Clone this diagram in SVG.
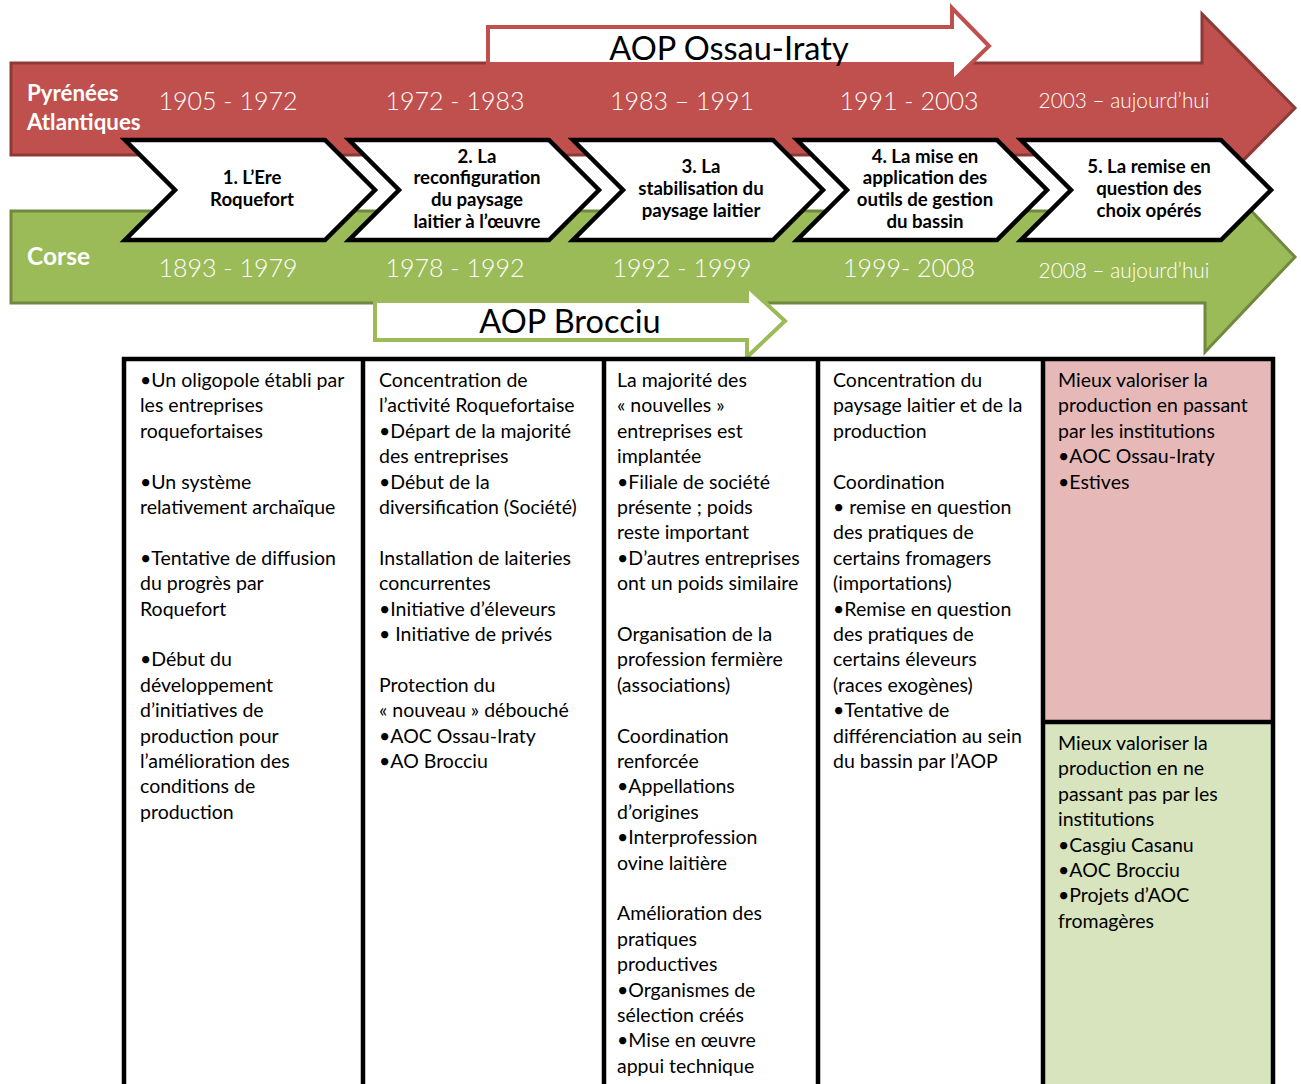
<svg xmlns="http://www.w3.org/2000/svg" width="1301" height="1084" viewBox="0 0 1301 1084">
<style>
.bg{fill:#fff}
.red{fill:#C0504D;stroke:#8C3A38;stroke-width:3;stroke-linejoin:miter}
.green{fill:#9BBB59;stroke:#71893F;stroke-width:3;stroke-linejoin:miter}
.aopR{fill:#fff;stroke:#C0504D;stroke-width:4}
.aopG{fill:#fff;stroke:#9BBB59;stroke-width:4}
.chev{fill:#fff;stroke:#000;stroke-width:4.5;stroke-linejoin:miter}
.lbl{font-family:Lato,"Liberation Sans",sans-serif;font-weight:bold;fill:#fff}
.yr{font-family:Lato,"Liberation Sans",sans-serif;font-weight:300;fill:#fff;font-size:25px;text-anchor:middle}
.yrs{font-family:Lato,"Liberation Sans",sans-serif;font-weight:300;fill:#fff;font-size:20.8px;text-anchor:middle}
.aop{font-family:Lato,"Liberation Sans",sans-serif;fill:#000;font-size:32.5px;text-anchor:middle}
.ct{font-family:Lato,"Liberation Sans",sans-serif;font-weight:bold;fill:#000;font-size:18.6px;text-anchor:middle}
.tx{font-family:Lato,"Liberation Sans",sans-serif;fill:#000;font-size:19.5px}
.grid{stroke:#000;stroke-width:4.5;fill:none}
</style>
<rect class="bg" x="0" y="0" width="1301" height="1084"/>

<g id="arrow-pyrenees">
<polygon class="red" points="11,63 1202,63 1202,14 1295,108 1202,202 1202,155 11,155"/>
</g>
<g id="arrow-corse">
<polygon class="green" points="11,211 1205,211 1205,162 1295,257 1205,352 1205,303 11,303"/>
</g>
<g id="arrow-ossau">
<polygon class="aopR" points="488,27 952,27 952,8 989,46 952,82 952,64 488,64"/>
<text class="aop" x="729" y="60">AOP Ossau-Iraty</text>
</g>
<g id="arrow-brocciu">
<polygon class="aopG" points="375,301 747,301 747,286 785,321 747,357 747,340 375,340"/>
<text class="aop" x="570" y="333">AOP Brocciu</text>
</g>

<g id="region-labels">
<text class="lbl" font-size="22.3" x="27" y="101">Pyrénées</text>
<text class="lbl" font-size="22.3" x="27" y="130">Atlantiques</text>
<text class="lbl" font-size="24.5" x="27" y="265">Corse</text>
</g>

<g id="years-pyrenees">
<text class="yr" x="228" y="110">1905 - 1972</text>
<text class="yr" x="455" y="110">1972 - 1983</text>
<text class="yr" x="682" y="110">1983 – 1991</text>
<text class="yr" x="909" y="110">1991 - 2003</text>
<text class="yrs" x="1124" y="108">2003 – aujourd’hui</text>
</g>
<g id="years-corse">
<text class="yr" x="228" y="277">1893 - 1979</text>
<text class="yr" x="455" y="277">1978 - 1992</text>
<text class="yr" x="682" y="277">1992 - 1999</text>
<text class="yr" x="909" y="277">1999- 2008</text>
<text class="yrs" x="1124" y="278">2008 – aujourd’hui</text>
</g>

<g id="phase-1">
<polygon class="chev" points="125,140 325,140 375,190 325,240 125,240 175,190"/>
<text class="ct" x="252" y="184">1. L’Ere</text>
<text class="ct" x="252" y="206">Roquefort</text>
</g>
<g id="phase-2">
<polygon class="chev" points="349,140 549,140 599,190 549,240 349,240 399,190"/>
<text class="ct" x="477" y="163">2. La</text>
<text class="ct" x="477" y="184">reconfiguration</text>
<text class="ct" x="477" y="206">du paysage</text>
<text class="ct" x="477" y="228">laitier à l’œuvre</text>
</g>
<g id="phase-3">
<polygon class="chev" points="573,140 773,140 823,190 773,240 573,240 623,190"/>
<text class="ct" x="701" y="173">3. La</text>
<text class="ct" x="701" y="195">stabilisation du</text>
<text class="ct" x="701" y="217">paysage laitier</text>
</g>
<g id="phase-4">
<polygon class="chev" points="797,140 997,140 1047,190 997,240 797,240 847,190"/>
<text class="ct" x="925" y="163">4. La mise en</text>
<text class="ct" x="925" y="184">application des</text>
<text class="ct" x="925" y="206">outils de gestion</text>
<text class="ct" x="925" y="228">du bassin</text>
</g>
<g id="phase-5">
<polygon class="chev" points="1021,140 1221,140 1271,190 1221,240 1021,240 1071,190"/>
<text class="ct" x="1149" y="173">5. La remise en</text>
<text class="ct" x="1149" y="195">question des</text>
<text class="ct" x="1149" y="217">choix opérés</text>
</g>

<g id="table">
<rect x="1045" y="360" width="226" height="362" fill="#E6B9B8"/>
<rect x="1045" y="722" width="226" height="362" fill="#D7E4BD"/>
<g class="grid">
<line x1="122" y1="359" x2="1275" y2="359"/>
<line x1="124" y1="357" x2="124" y2="1084"/>
<line x1="363" y1="357" x2="363" y2="1084"/>
<line x1="604" y1="357" x2="604" y2="1084"/>
<line x1="818" y1="357" x2="818" y2="1084"/>
<line x1="1043" y1="357" x2="1043" y2="1084"/>
<line x1="1273" y1="357" x2="1273" y2="1084"/>
<line x1="1043" y1="722" x2="1273" y2="722"/>
</g>
</g>

<g id="cell-1">
<text class="tx" x="140" y="387">
<tspan x="140" dy="0">•Un oligopole établi par</tspan>
<tspan x="140" dy="25.4">les entreprises</tspan>
<tspan x="140" dy="25.4">roquefortaises</tspan>
<tspan x="140" dy="50.8">•Un système</tspan>
<tspan x="140" dy="25.4">relativement archaïque</tspan>
<tspan x="140" dy="50.8">•Tentative de diffusion</tspan>
<tspan x="140" dy="25.4">du progrès par</tspan>
<tspan x="140" dy="25.4">Roquefort</tspan>
<tspan x="140" dy="50.8">•Début du</tspan>
<tspan x="140" dy="25.4">développement</tspan>
<tspan x="140" dy="25.4">d’initiatives de</tspan>
<tspan x="140" dy="25.4">production pour</tspan>
<tspan x="140" dy="25.4">l’amélioration des</tspan>
<tspan x="140" dy="25.4">conditions de</tspan>
<tspan x="140" dy="25.4">production</tspan>
</text>
</g>

<g id="cell-2">
<text class="tx" x="379" y="387">
<tspan x="379" dy="0">Concentration de</tspan>
<tspan x="379" dy="25.4">l’activité Roquefortaise</tspan>
<tspan x="379" dy="25.4">•Départ de la majorité</tspan>
<tspan x="379" dy="25.4">des entreprises</tspan>
<tspan x="379" dy="25.4">•Début de la</tspan>
<tspan x="379" dy="25.4">diversification (Société)</tspan>
<tspan x="379" dy="50.8">Installation de laiteries</tspan>
<tspan x="379" dy="25.4">concurrentes</tspan>
<tspan x="379" dy="25.4">•Initiative d’éleveurs</tspan>
<tspan x="379" dy="25.4">• Initiative de privés</tspan>
<tspan x="379" dy="50.8">Protection du</tspan>
<tspan x="379" dy="25.4">« nouveau » débouché</tspan>
<tspan x="379" dy="25.4">•AOC Ossau-Iraty</tspan>
<tspan x="379" dy="25.4">•AO Brocciu</tspan>
</text>
</g>

<g id="cell-3">
<text class="tx" x="617" y="387">
<tspan x="617" dy="0">La majorité des</tspan>
<tspan x="617" dy="25.4">« nouvelles »</tspan>
<tspan x="617" dy="25.4">entreprises est</tspan>
<tspan x="617" dy="25.4">implantée</tspan>
<tspan x="617" dy="25.4">•Filiale de société</tspan>
<tspan x="617" dy="25.4">présente ; poids</tspan>
<tspan x="617" dy="25.4">reste important</tspan>
<tspan x="617" dy="25.4">•D’autres entreprises</tspan>
<tspan x="617" dy="25.4">ont un poids similaire</tspan>
<tspan x="617" dy="50.8">Organisation de la</tspan>
<tspan x="617" dy="25.4">profession fermière</tspan>
<tspan x="617" dy="25.4">(associations)</tspan>
<tspan x="617" dy="50.8">Coordination</tspan>
<tspan x="617" dy="25.4">renforcée</tspan>
<tspan x="617" dy="25.4">•Appellations</tspan>
<tspan x="617" dy="25.4">d’origines</tspan>
<tspan x="617" dy="25.4">•Interprofession</tspan>
<tspan x="617" dy="25.4">ovine laitière</tspan>
<tspan x="617" dy="50.8">Amélioration des</tspan>
<tspan x="617" dy="25.4">pratiques</tspan>
<tspan x="617" dy="25.4">productives</tspan>
<tspan x="617" dy="25.4">•Organismes de</tspan>
<tspan x="617" dy="25.4">sélection créés</tspan>
<tspan x="617" dy="25.4">•Mise en œuvre</tspan>
<tspan x="617" dy="25.4">appui technique</tspan>
</text>
</g>

<g id="cell-4">
<text class="tx" x="833" y="387">
<tspan x="833" dy="0">Concentration du</tspan>
<tspan x="833" dy="25.4">paysage laitier et de la</tspan>
<tspan x="833" dy="25.4">production</tspan>
<tspan x="833" dy="50.8">Coordination</tspan>
<tspan x="833" dy="25.4">• remise en question</tspan>
<tspan x="833" dy="25.4">des pratiques de</tspan>
<tspan x="833" dy="25.4">certains fromagers</tspan>
<tspan x="833" dy="25.4">(importations)</tspan>
<tspan x="833" dy="25.4">•Remise en question</tspan>
<tspan x="833" dy="25.4">des pratiques de</tspan>
<tspan x="833" dy="25.4">certains éleveurs</tspan>
<tspan x="833" dy="25.4">(races exogènes)</tspan>
<tspan x="833" dy="25.4">•Tentative de</tspan>
<tspan x="833" dy="25.4">différenciation au sein</tspan>
<tspan x="833" dy="25.4">du bassin par l’AOP</tspan>
</text>
</g>

<g id="cell-5a">
<text class="tx" x="1058" y="387">
<tspan x="1058" dy="0">Mieux valoriser la</tspan>
<tspan x="1058" dy="25.4">production en passant</tspan>
<tspan x="1058" dy="25.4">par les institutions</tspan>
<tspan x="1058" dy="25.4">•AOC Ossau-Iraty</tspan>
<tspan x="1058" dy="25.4">•Estives</tspan>
</text>
</g>

<g id="cell-5b">
<text class="tx" x="1058" y="750">
<tspan x="1058" dy="0">Mieux valoriser la</tspan>
<tspan x="1058" dy="25.4">production en ne</tspan>
<tspan x="1058" dy="25.4">passant pas par les</tspan>
<tspan x="1058" dy="25.4">institutions</tspan>
<tspan x="1058" dy="25.4">•Casgiu Casanu</tspan>
<tspan x="1058" dy="25.4">•AOC Brocciu</tspan>
<tspan x="1058" dy="25.4">•Projets d’AOC</tspan>
<tspan x="1058" dy="25.4">fromagères</tspan>
</text>
</g>
</svg>
